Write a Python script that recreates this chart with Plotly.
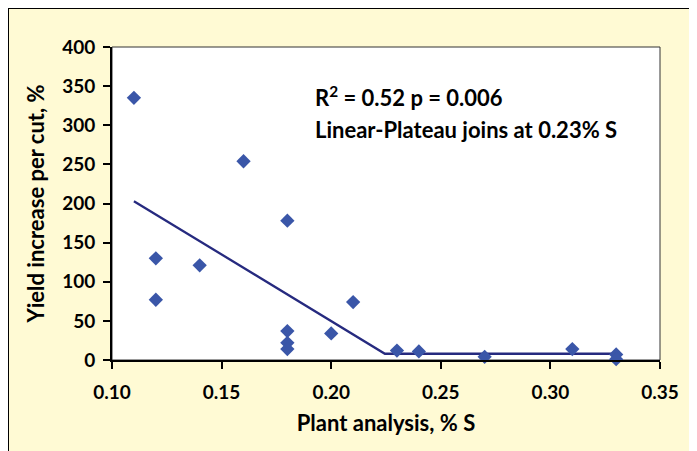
import plotly.graph_objects as go

s_pct = [0.11, 0.16, 0.18, 0.12, 0.14, 0.12, 0.18, 0.18, 0.18, 0.20, 0.21, 0.23, 0.24, 0.27, 0.31, 0.33, 0.33]
yield_inc = [335, 254, 178, 130, 121, 77, 37, 22, 14, 34, 74, 12, 11, 4, 14, 7, 1]

fit_x = [0.11, 0.2245, 0.33]
fit_y = [203, 8, 8]

x_ticks = [0.10, 0.15, 0.20, 0.25, 0.30, 0.35]
x_tick_text = ["0.10", "0.15", "0.20", "0.25", "0.30", "0.35"]
y_ticks = [0, 50, 100, 150, 200, 250, 300, 350, 400]

font_family = "Lato, Noto Sans, sans-serif"

# page body has an 8px margin, so the figure starts at (8, 8)
W, H = 689, 443
L, T, R, B = 104, 39, 37, 91
pw, ph = W - L - R, H - T - B

fig = go.Figure()
fig.add_trace(go.Scatter(x=fit_x, y=fit_y, mode="lines",
                         line=dict(color="#262A7F", width=2.3), hoverinfo="skip"))
fig.add_trace(go.Scatter(x=s_pct, y=yield_inc, mode="markers", cliponaxis=False,
                         marker=dict(symbol="diamond", size=11, color="#3A56A8")))

fig.update_layout(
    width=W, height=H,
    margin=dict(l=L, r=R, t=T, b=B),
    paper_bgcolor="#FFFAD4",
    plot_bgcolor="white",
    showlegend=False,
    font=dict(family=font_family, color="black"),
    xaxis=dict(range=[0.10, 0.35], tickvals=x_ticks, ticktext=x_tick_text,
               showgrid=False, zeroline=False, showline=True, linecolor="black", linewidth=2,
               ticks="outside", ticklen=7, tickwidth=1.5, tickcolor="black",
               ticklabelstandoff=7,
               tickfont=dict(size=19, family=font_family, weight="bold"),
               title=dict(text="<b>Plant analysis, % S</b>", font=dict(size=22), standoff=14)),
    yaxis=dict(range=[0, 400], tickvals=y_ticks,
               showgrid=False, zeroline=False, showline=True, linecolor="black", linewidth=2,
               ticks="outside", ticklen=7, tickwidth=1.5, tickcolor="black",
               ticklabelstandoff=4,
               tickfont=dict(size=19, family=font_family, weight="bold"),
               title=dict(text="<b>Yield increase per cut, %</b>", font=dict(size=22), standoff=11)),
    shapes=[
        dict(type="line", xref="paper", yref="paper", x0=-L / pw, x1=-L / pw, y0=-B / ph, y1=1 + T / ph,
             line=dict(color="black", width=2), layer="below"),
        dict(type="line", xref="paper", yref="paper", x0=-L / pw, x1=1 + R / pw, y0=1 + T / ph, y1=1 + T / ph,
             line=dict(color="black", width=2), layer="below"),
        dict(type="rect", xref="paper", yref="paper", x0=0, x1=1, y0=0, y1=1,
             line=dict(color="#333333", width=1), layer="below"),
    ],
    annotations=[
        dict(xref="paper", yref="paper", x=0.367, y=0.842, xanchor="left", yanchor="middle",
             showarrow=False, align="left",
             text="<b>R<sup>2</sup> = 0.52 p = 0.006</b>", font=dict(size=22)),
        dict(xref="paper", yref="paper", x=0.367, y=0.737, xanchor="left", yanchor="middle",
             showarrow=False, align="left",
             text="<b>Linear-Plateau joins at 0.23% S</b>", font=dict(size=22)),
    ],
)

fig.write_html("out.html")
